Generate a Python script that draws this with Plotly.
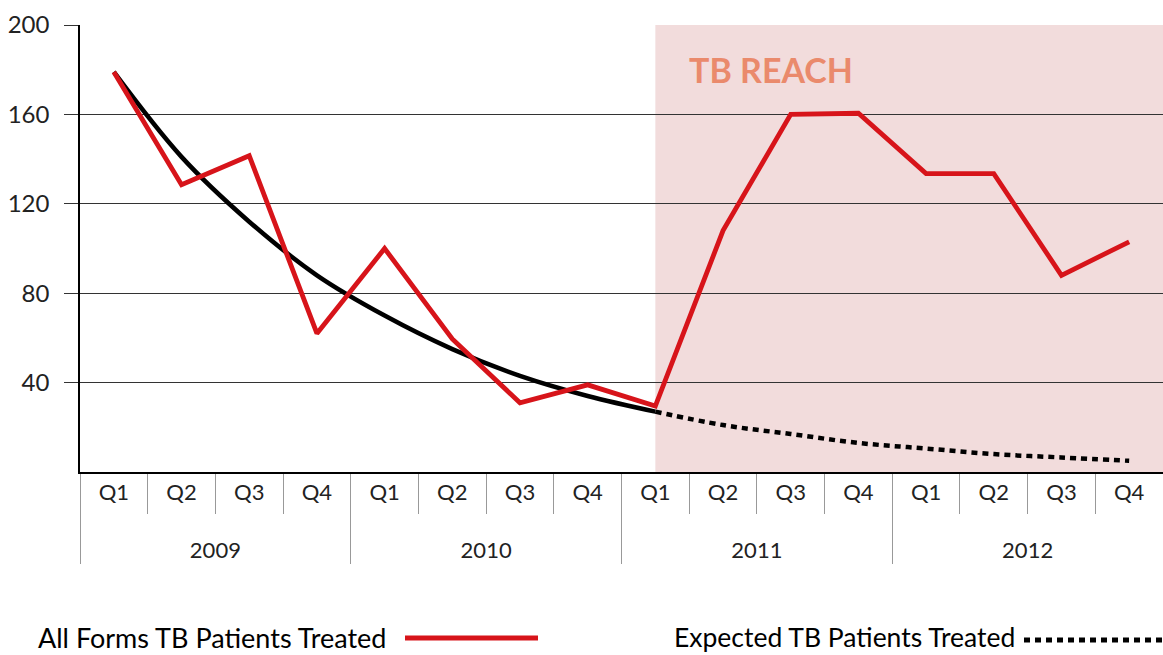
import plotly.graph_objects as go

years = ["2009"] * 4 + ["2010"] * 4 + ["2011"] * 4 + ["2012"] * 4
quarters = ["Q1", "Q2", "Q3", "Q4"] * 4

# All forms TB patients treated
treated = [179, 128.5, 141.5, 62, 100, 59.5, 31, 39, 29.5, 108, 160, 160.5, 133.5, 133.5, 88, 103]
# Expected trend, solid up to 2011 Q1 then dotted
expected = [179, 141, 112, 88, 70, 55, 43, 34, 27, 21, 17, 13, 10.5, 8, 6.5, 5]
reach_start = 8  # TB REACH starts at 2011 Q1

y_ticks = [40, 80, 120, 160, 200]

FONT = "Lato"
RED = "#d7141a"
W, H = 1163, 655
L, R, T, B = 80, 0, 25, 183
pw, ph = W - L - R, H - T - B


def px(x):
    return (x - L) / pw


def py(y):
    return (H - B - y) / ph


# blank first line pushes the year row a little lower, as in the original
year_labels = ["<br>" + y for y in years]

fig = go.Figure()

fig.add_trace(go.Scatter(
    x=[year_labels[: reach_start + 1], quarters[: reach_start + 1]],
    y=expected[: reach_start + 1],
    mode="lines", line=dict(color="black", width=4.5, shape="spline"),
    showlegend=False, hoverinfo="skip",
))
fig.add_trace(go.Scatter(
    x=[year_labels[reach_start:], quarters[reach_start:]],
    y=expected[reach_start:],
    mode="lines", line=dict(color="black", width=4.5, shape="spline", dash="6px,5px"),
    showlegend=False, hoverinfo="skip",
))
fig.add_trace(go.Scatter(
    x=[year_labels, quarters], y=treated,
    mode="lines", line=dict(color=RED, width=4.8),
    showlegend=False,
))

# shaded TB REACH period
fig.add_shape(
    type="rect", xref="x domain", yref="y domain",
    x0=(reach_start + 0.5) / len(quarters), x1=1, y0=0, y1=1,
    fillcolor="#f2dcdc", line_width=0, layer="below",
)
fig.add_annotation(
    text="<b>TB REACH</b>", xref="x domain", yref="y domain",
    x=px(687), y=py(70), xanchor="left", yanchor="middle",
    showarrow=False, font=dict(family=FONT, size=34, color="#ea8a6c"),
)

# legend drawn below the chart (line sample after text)
fig.add_annotation(
    text="All Forms TB Patients Treated", xref="paper", yref="paper",
    x=px(36), y=py(637), xanchor="left", yanchor="middle",
    showarrow=False, font=dict(family=FONT, size=27, color="black"),
)
fig.add_shape(type="line", xref="paper", yref="paper",
              x0=px(405), x1=px(538), y0=py(638), y1=py(638),
              line=dict(color=RED, width=5))
fig.add_annotation(
    text="Expected TB Patients Treated", xref="paper", yref="paper",
    x=px(672), y=py(637), xanchor="left", yanchor="middle",
    showarrow=False, font=dict(family=FONT, size=26.5, color="black"),
)
fig.add_shape(type="line", xref="paper", yref="paper",
              x0=px(1024), x1=px(1163), y0=py(640), y1=py(640),
              line=dict(color="black", width=5, dash="6px,5px"))

fig.update_layout(
    width=W, height=H,
    margin=dict(l=L, r=R, t=T, b=B),
    plot_bgcolor="white", paper_bgcolor="white",
    font=dict(family=FONT, size=22, color="#222"),
    showlegend=False,
)
fig.update_xaxes(
    type="multicategory", range=[-0.5, len(quarters) - 0.5],
    showline=True, linecolor="black", linewidth=1.5,
    ticks="outside", ticklen=40, tickcolor="#999", tickwidth=1,
    showdividers=True, dividercolor="#999", dividerwidth=1,
    showgrid=False, tickfont=dict(size=22, color="#222"),
)
fig.update_yaxes(
    range=[0, 200], tickvals=y_ticks,
    showline=True, linecolor="black", linewidth=1.5,
    showgrid=True, gridcolor="#333", gridwidth=1,
    ticks="outside", ticklen=14, tickcolor="#333", ticklabelstandoff=10,
    zeroline=False, tickfont=dict(size=24, color="#222"),
)

fig.write_html(
    "out.html",
    config={"displayModeBar": False},
    post_script="document.body.style.margin='0px';",
)
